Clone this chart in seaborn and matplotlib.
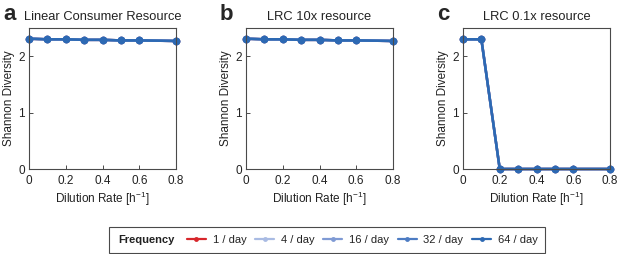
import numpy as np
import pandas as pd
import seaborn as sns
import matplotlib.pyplot as plt
from matplotlib.lines import Line2D
from matplotlib.patches import Rectangle

sns.set_style("ticks")
plt.rcParams['font.family'] = ['Liberation Sans', 'DejaVu Sans']

# data
dilution = [0, 0.1, 0.2, 0.3, 0.4, 0.5, 0.6, 0.8]
frequencies = ["1 / day", "4 / day", "16 / day", "32 / day", "64 / day"]
freq_colors = ["#d7262b", "#a9bbe3", "#7f9ad4", "#4d7cc3", "#2d69b3"]

shannon_lcr = [2.31, 2.30, 2.30, 2.29, 2.29, 2.28, 2.28, 2.27]
shannon_10x = [2.31, 2.30, 2.30, 2.29, 2.29, 2.28, 2.28, 2.27]
shannon_01x = [2.30, 2.30, 0.0, 0.0, 0.0, 0.0, 0.0, 0.0]

panels = [("a", "Linear Consumer Resource", shannon_lcr),
          ("b", "LRC 10x resource", shannon_10x),
          ("c", "LRC 0.1x resource", shannon_01x)]

W, H = 617, 254
SPINE = "#4a4a4a"


def make_frame(values):
    rows = []
    for f in frequencies:
        for d, v in zip(dilution, values):
            rows.append({"dilution": d, "shannon": v, "freq": f})
    return pd.DataFrame(rows)


fig = plt.figure(figsize=(W / 100, H / 100), dpi=100)
lefts = [29, 246, 463]
ax_w = 147
ax_top, ax_bot = 28, 169

for left, (letter, title, vals) in zip(lefts, panels):
    ax = fig.add_axes([left / W, 1 - ax_bot / H, ax_w / W, (ax_bot - ax_top) / H])
    df = make_frame(vals)
    sns.lineplot(data=df, x="dilution", y="shannon", hue="freq",
                 hue_order=frequencies, palette=freq_colors,
                 marker="o", markersize=5.5, markeredgewidth=0,
                 linewidth=1.8, legend=False, ax=ax)
    ax.set_xlim(0, 0.8)
    ax.set_ylim(0, 2.5)
    ax.set_xticks([0, 0.2, 0.4, 0.6, 0.8])
    ax.set_xticklabels(["0", "0.2", "0.4", "0.6", "0.8"])
    ax.set_yticks([0, 1, 2])
    for sp in ax.spines.values():
        sp.set_visible(True)
        sp.set_color(SPINE)
        sp.set_linewidth(0.8)
    for line in ax.lines:
        line.set_clip_on(False)
    ax.tick_params(direction="in", length=3, width=0.7, labelsize=8.5,
                   color=SPINE, labelcolor="#222222")
    ax.tick_params(axis="x", pad=4)
    ax.tick_params(axis="y", pad=3)
    ax.set_xlabel("Dilution Rate [h$\\mathregular{^{-1}}$]", fontsize=8.5,
                  labelpad=2, color="#222222")
    ax.set_ylabel("Shannon Diversity", fontsize=8.5, labelpad=2,
                  color="#222222")
    ax.set_title(title, fontsize=9.3, pad=6, color="#222222")
    fig.text((left - 26) / W, 1 - 20 / H, letter, fontsize=16,
             fontweight="bold", va="baseline", ha="left")

# legend: framed box with a bold "Frequency" label on the left
fig.add_artist(Rectangle((109 / W, 1 - 253 / H), (545 - 109) / W, 26 / H,
                         transform=fig.transFigure, fill=False,
                         edgecolor=SPINE, linewidth=0.8))
fig.text(118 / W, 1 - 240 / H, "Frequency", fontsize=8,
         fontweight="bold", va="center", ha="left", color="#222222")

handles = [Line2D([], [], color=c, marker="o", markersize=3.5,
                  markeredgewidth=0, linewidth=1.6) for c in freq_colors]
leg = fig.legend(handles, frequencies, ncol=5, loc="center left",
                 bbox_to_anchor=(187 / W, 1 - 240 / H), frameon=False,
                 fontsize=8, handlelength=1.7, handletextpad=0.6,
                 columnspacing=0.8, borderpad=0, borderaxespad=0)
for t in leg.get_texts():
    t.set_color("#222222")

fig.savefig("out.png", dpi=100, facecolor="white")
